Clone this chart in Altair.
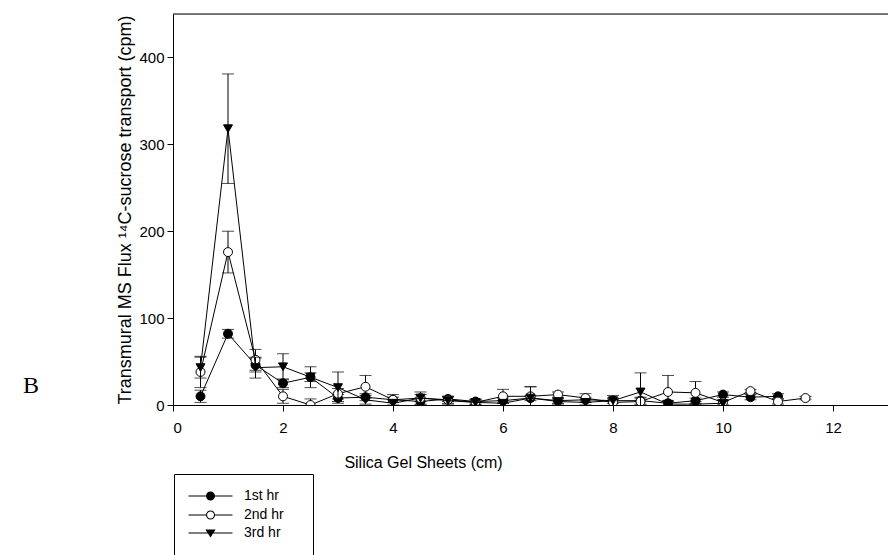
import altair as alt
import pandas as pd

# ---------------- data ----------------
series_names = ["1st hr", "2nd hr", "3rd hr"]

x_1st = [0.5, 1.0, 1.5, 2.0, 2.5, 3.0, 3.5, 4.0, 4.5, 5.0, 5.5, 6.0, 6.5, 7.0, 7.5,
         8.0, 8.5, 9.0, 9.5, 10.0, 10.5, 11.0]
y_1st = [10, 82, 46, 25, 32, 8, 9, 6, 4, 7, 4, 5, 8, 5, 6, 5, 5, 2, 5, 12, 9, 10]
e_1st = [7, 5, 8, 5, 5, 4, 4, 3, 4, 3, 3, 3, 3, 3, 3, 3, 4, 3, 3, 3, 3, 3]

x_2nd = [0.5, 1.0, 1.5, 2.0, 2.5, 3.0, 3.5, 4.0, 4.5, 5.0, 5.5, 6.0, 6.5, 7.0, 7.5,
         8.0, 8.5, 9.0, 9.5, 10.0, 10.5, 11.0, 11.5]
y_2nd = [38, 176, 52, 10, 0, 13, 21, 6, 8, 6, 3, 10, 10, 12, 8, 3, 4, 15, 14, 3, 16, 4, 8]
e_2nd = [18, 24, 12, 8, 7, 6, 13, 6, 4, 4, 3, 8, 11, 3, 5, 4, 4, 19, 13, 3, 2, 3, 2]

x_3rd = [0.5, 1.0, 1.5, 2.0, 2.5, 3.0, 3.5, 4.0, 4.5, 5.0, 5.5, 6.0, 6.5, 7.0, 7.5,
         8.0, 8.5, 9.0, 9.5, 10.0]
y_3rd = [43, 318, 43, 44, 32, 20, 6, 2, 8, 5, 3, 2, 8, 4, 3, 5, 15, 1, 1, 2]
e_3rd = [12, 63, 12, 15, 12, 18, 5, 4, 7, 4, 3, 3, 13, 3, 3, 6, 22, 3, 3, 3]

x_ticks = [0, 2, 4, 6, 8, 10, 12]
y_ticks = [0, 100, 200, 300, 400]

# ---------------- tables ----------------
def make_df(name, xs, ys, es):
    d = pd.DataFrame({"x": xs, "y": ys, "err": es})
    d["series"] = name
    d["lo"] = d["y"] - d["err"]
    d["hi"] = d["y"] + d["err"]
    return d

frames = [make_df("1st hr", x_1st, y_1st, e_1st),
          make_df("2nd hr", x_2nd, y_2nd, e_2nd),
          make_df("3rd hr", x_3rd, y_3rd, e_3rd)]
all_df = pd.concat(frames, ignore_index=True)

W, H = 715, 391
FONT = "Liberation Sans"

xs = alt.Scale(domain=[0, 13], nice=False, zero=False)
ys = alt.Scale(domain=[0, 450], nice=False)

X = alt.X("x:Q", scale=xs,
          axis=alt.Axis(values=x_ticks, title="Silica Gel Sheets (cm)", grid=False,
                        tickSize=6, labelPadding=9, labelFontSize=15, titleFontSize=16,
                        titleFontWeight="normal", titlePadding=19, titleX=250,
                        domainColor="black", tickColor="black", labelColor="black",
                        titleColor="black", labelFont=FONT, titleFont=FONT))
Y = alt.Y("y:Q", scale=ys,
          axis=alt.Axis(values=y_ticks, title="Transmural MS Flux \u00b9\u2074C-sucrose transport (cpm)",
                        grid=False, tickSize=6, labelPadding=3, labelFontSize=15,
                        titleFontSize=18, titleFontWeight="normal", titlePadding=4,
                        domainColor="black", tickColor="black", labelColor="black",
                        titleColor="black", labelFont=FONT, titleFont=FONT))

point_style = {
    "1st hr": dict(shape="circle", fill="black"),
    "2nd hr": dict(shape="circle", fill="white"),
    "3rd hr": dict(shape="triangle-down", fill="black"),
}

layers = []
for d in frames:
    name = d["series"].iloc[0]
    base = alt.Chart(d)
    rule = base.mark_rule(color="black", strokeWidth=1, clip=True).encode(
        x=alt.X("x:Q", scale=xs), y=alt.Y("lo:Q", scale=ys), y2="hi:Q")
    cap_hi = base.mark_tick(color="black", thickness=1, size=12, orient="horizontal", clip=True).encode(
        x=alt.X("x:Q", scale=xs), y=alt.Y("hi:Q", scale=ys))
    cap_lo = base.mark_tick(color="black", thickness=1, size=12, orient="horizontal", clip=True).encode(
        x=alt.X("x:Q", scale=xs), y=alt.Y("lo:Q", scale=ys))
    line = base.mark_line(color="black", strokeWidth=1, clip=True).encode(
        x=alt.X("x:Q", scale=xs), y=alt.Y("y:Q", scale=ys), order="x:Q")
    pts = base.mark_point(filled=True, size=80, stroke="black", strokeWidth=1, opacity=1,
                          clip=True, **point_style[name]).encode(
        x=alt.X("x:Q", scale=xs), y=alt.Y("y:Q", scale=ys))
    layers += [rule, cap_hi, cap_lo, line, pts]

# legend symbols (fill only): thin bar as the line, marker in the middle
bar_full = "M-1.25,-0.085H6.08V0.085H-1.25Z"
circ_out = "M3.17,0A0.75,0.75 0 1,1 1.67,0A0.75,0.75 0 1,1 3.17,0Z"
circ_in = "M3.0,0A0.58,0.58 0 1,0 1.84,0A0.58,0.58 0 1,0 3.0,0Z"
p_filled = bar_full + circ_out
p_open = ("M-1.25,-0.085H1.70V0.085H-1.25Z" "M3.14,-0.085H6.08V0.085H3.14Z"
          + circ_out + circ_in)
p_tri = bar_full + "M1.57,-0.6L3.27,-0.6L2.42,0.75Z"

# legend layer: its own marks are pushed outside the plot and clipped away
legend_layer = alt.Chart(all_df).transform_calculate(yoff="-1000").mark_point(
    filled=True, fill="black", opacity=1, size=144, clip=True
).encode(
    x=alt.X("x:Q", scale=xs), y=alt.Y("yoff:Q", scale=ys),
    shape=alt.Shape("series:N",
                    scale=alt.Scale(domain=series_names, range=[p_filled, p_open, p_tri]),
                    legend=alt.Legend(title=None, orient="none", legendX=1, legendY=460,
                                      padding=15, rowPadding=3, symbolSize=144,
                                      symbolOpacity=1, symbolFillColor="black",
                                      labelOffset=41, labelFont=FONT, labelFontSize=14,
                                      labelColor="black", strokeColor="black",
                                      labelExpr="datum.label + '\u2003\u200b'"))
)

top_border = alt.Chart(pd.DataFrame({"k": [0]})).mark_rule(color="black", strokeWidth=1).encode(
    x=alt.value(0), x2=alt.value(W), y=alt.value(0))

b_label = alt.Chart(pd.DataFrame({"t": ["B"]})).mark_text(
    font="Liberation Serif", fontSize=24, color="black", align="center", baseline="alphabetic").encode(
    x=alt.value(-142), y=alt.value(379), text="t:N")

axes_layer = alt.Chart(all_df).mark_point(opacity=0).encode(x=X, y=Y)

chart = alt.layer(axes_layer, *layers, legend_layer, top_border, b_label).properties(
    width=W, height=H,
    autosize=alt.AutoSizeParams(type="none"),
    padding={"left": 173, "top": 14, "right": 0, "bottom": 150},
).configure_view(stroke=None).configure(background="white")

chart.save("out.html", embed_options={"renderer": "svg", "actions": False})
